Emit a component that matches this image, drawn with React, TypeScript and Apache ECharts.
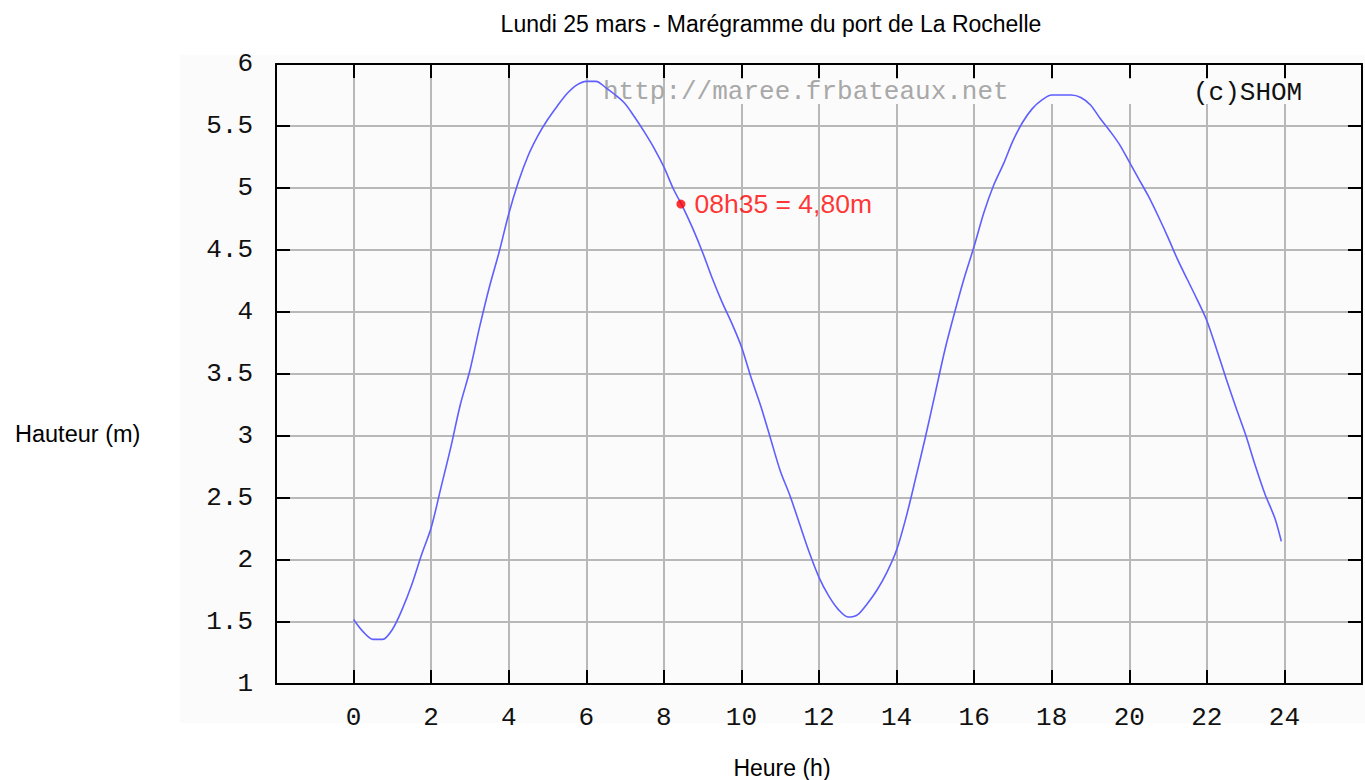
import React, { useEffect, useRef } from "react";
import * as echarts from "echarts";

// Heure (h) and Hauteur (m)
const hours = [
  0, 0.25, 0.5, 0.75, 1, 1.25, 1.5, 1.75, 2, 2.25, 2.5, 2.75, 3, 3.25, 3.5, 3.75,
  4, 4.25, 4.5, 4.75, 5, 5.25, 5.5, 5.75, 6, 6.25, 6.5, 6.75, 7, 7.25, 7.5, 7.75,
  8, 8.25, 8.5, 8.75, 9, 9.25, 9.5, 9.75, 10, 10.25, 10.5, 10.75, 11, 11.25, 11.5, 11.75,
  12, 12.25, 12.5, 12.75, 13, 13.25, 13.5, 13.75, 14, 14.25, 14.5, 14.75, 15, 15.25, 15.5, 15.75,
  16, 16.25, 16.5, 16.75, 17, 17.25, 17.5, 17.75, 18, 18.25, 18.5, 18.75, 19, 19.25, 19.5, 19.75,
  20, 20.25, 20.5, 20.75, 21, 21.25, 21.5, 21.75, 22, 22.25, 22.5, 22.75, 23, 23.25, 23.5, 23.75, 23.92,
];
const heights = [
  1.52, 1.42, 1.36, 1.36, 1.44, 1.6, 1.8, 2.04, 2.26, 2.58, 2.9, 3.25, 3.53, 3.88, 4.2, 4.48,
  4.79, 5.05, 5.26, 5.42, 5.55, 5.66, 5.76, 5.83, 5.86, 5.86, 5.81, 5.75, 5.68, 5.57, 5.45, 5.32,
  5.17, 4.99, 4.84, 4.67, 4.48, 4.27, 4.08, 3.91, 3.72, 3.47, 3.24, 2.98, 2.72, 2.52, 2.29, 2.06,
  1.86, 1.71, 1.6, 1.54, 1.56, 1.65, 1.76, 1.9, 2.08, 2.35, 2.67, 3.0, 3.35, 3.7, 4.0, 4.28,
  4.53, 4.8, 5.02, 5.19, 5.38, 5.53, 5.64, 5.71, 5.75, 5.75, 5.75, 5.73, 5.67, 5.56, 5.46, 5.35,
  5.21, 5.07, 4.93, 4.77, 4.6, 4.42, 4.26, 4.1, 3.93, 3.7, 3.46, 3.23, 3.01, 2.76, 2.53, 2.34, 2.15,
];

// Current time marker
const markerPoint = [8.44, 4.87];
const markerLabel = "08h35 = 4,80m";

const titleText = "Lundi 25 mars - Marégramme du port de La Rochelle";
const yName = "Hauteur (m)";
const xName = "Heure (h)";
const watermark = "http://maree.frbateaux.net";
const copyright = "(c)SHOM";

const MONO = "Liberation Mono";
const SANS = "Liberation Sans, Arial, sans-serif";

export default function App() {
  const ref = useRef<HTMLDivElement>(null);

  useEffect(() => {
    if (!ref.current) return;
    const chart = echarts.init(ref.current, null, { renderer: "svg" });
    const tick = { show: true, inside: true, length: 14, lineStyle: { color: "#000", width: 2 } };
    const split = { show: true, lineStyle: { color: "#b8b8b8", width: 2 } };
    const axisLine = { show: true, onZero: false, lineStyle: { color: "#000", width: 2 } };
    const data = hours.map((h, i) => [h, heights[i]]);

    chart.setOption({
      animation: false,
      backgroundColor: "#ffffff",
      grid: { left: 276, top: 64, right: -6.4, bottom: 96, containLabel: false },
      xAxis: [
        {
          type: "value",
          min: -2,
          max: 26,
          interval: 2,
          position: "bottom",
          axisLine,
          axisTick: tick,
          splitLine: split,
          axisLabel: {
            margin: 21,
            color: "#111",
            fontFamily: MONO,
            fontSize: 26,
            formatter: (v: number) => (v < 0 || v > 24 ? "" : String(v)),
          },
        },
        {
          type: "value",
          min: -2,
          max: 26,
          interval: 2,
          position: "top",
          axisLine,
          axisTick: tick,
          splitLine: { show: false },
          axisLabel: { show: false },
        },
      ],
      yAxis: [
        {
          type: "value",
          min: 1,
          max: 6,
          interval: 0.5,
          position: "left",
          axisLine,
          axisTick: tick,
          splitLine: split,
          axisLabel: {
            margin: 23,
            color: "#111",
            fontFamily: MONO,
            fontSize: 26,
          },
        },
        {
          type: "value",
          min: 1,
          max: 6,
          interval: 0.5,
          position: "right",
          axisLine,
          axisTick: tick,
          splitLine: { show: false },
          axisLabel: { show: false },
        },
      ],
      graphic: [
        { type: "rect", z: -10, silent: true, shape: { x: 180, y: 55, width: 1200, height: 668 }, style: { fill: "#fbfbfb" } },
        { type: "rect", z: 1, silent: true, shape: { x: 680, y: 79, width: 640, height: 25 }, style: { fill: "#fbfbfb" } },
        {
          type: "text", z: 3, x: 603, y: 92,
          style: { text: watermark, fill: "#a8a8a8", font: `26px ${MONO}`, textVerticalAlign: "middle" },
        },
        {
          type: "text", z: 3, x: 1193, y: 93,
          style: { text: copyright, fill: "#111", font: `26px ${MONO}`, textVerticalAlign: "middle" },
        },
        {
          type: "text", x: 771, y: 24,
          style: { text: titleText, fill: "#000", font: `23px ${SANS}`, textAlign: "center", textVerticalAlign: "middle" },
        },
        {
          type: "text", x: 15, y: 434,
          style: { text: yName, fill: "#000", font: `23.5px ${SANS}`, textAlign: "left", textVerticalAlign: "middle" },
        },
        {
          type: "text", x: 782, y: 768,
          style: { text: xName, fill: "#000", font: `23px ${SANS}`, textAlign: "center", textVerticalAlign: "middle" },
        },
      ],
      series: [
        {
          type: "line",
          xAxisIndex: 0,
          yAxisIndex: 0,
          data,
          smooth: 0.3,
          showSymbol: false,
          z: 4,
          lineStyle: { color: "#5f5fff", width: 1.6 },
        },
        {
          type: "scatter",
          xAxisIndex: 0,
          yAxisIndex: 0,
          data: [markerPoint],
          symbolSize: 9,
          z: 5,
          itemStyle: { color: "#ff0000" },
          label: {
            show: true,
            position: "right",
            distance: 9,
            formatter: markerLabel,
            color: "#ff0000",
            fontFamily: SANS,
            fontSize: 26.5,
          },
        },
      ],
    });
    return () => chart.dispose();
  }, []);

  return (
    <div
      ref={ref}
      style={{ position: "absolute", left: 0, top: 0, width: 1365, height: 780 }}
    />
  );
}
